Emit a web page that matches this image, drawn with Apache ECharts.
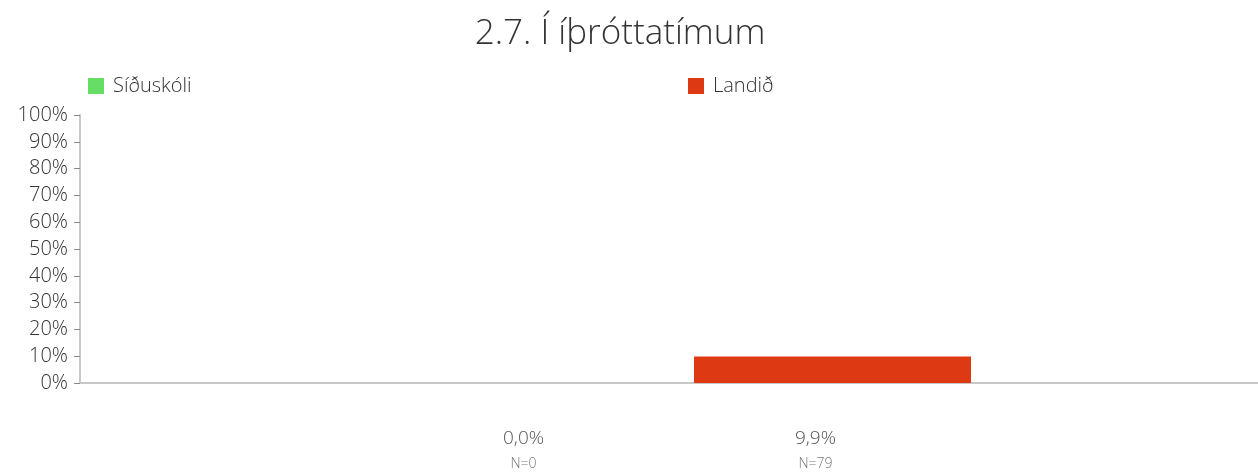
<!DOCTYPE html>
<html>
<head>
<meta charset="utf-8">
<style>
  html, body { margin: 0; padding: 0; background: #fff; }
  #chart { width: 1258px; height: 472px; }
</style>
<script src="https://cdn.jsdelivr.net/npm/echarts@6/dist/echarts.min.js"></script>
</head>
<body>
<div id="chart"></div>
<script>
// Survey question and its groups
const chartTitle = '2.7. Í íþróttatímum';
const seriesNames = ['Síðuskóli', 'Landið'];
const seriesValues = [0, 9.9];       // percent answering
const seriesCounts = [0, 79];        // number of respondents (N)
const seriesColors = ['#66dd66', '#dd3a13'];
const yTicks = { min: 0, max: 100, interval: 10 };

const FONT = '"Open Sans", Lato, "DejaVu Sans", sans-serif';

function fmtPct(v) {
  return v.toFixed(1).replace('.', ',') + '%';
}

const series = seriesNames.map((name, i) => ({
  name: name,
  type: 'bar',
  data: [seriesValues[i]],
  barWidth: 277,
  barGap: '5.4%',
  itemStyle: { color: seriesColors[i] },
  label: {
    show: true,
    position: 'bottom',
    distance: 0,
    offset: [-17, 42],
    formatter: () => '{p|' + fmtPct(seriesValues[i]) + '}\n{n|N=' + seriesCounts[i] + '}',
    rich: {
      p: { fontFamily: FONT, fontSize: 19, fontWeight: 300, color: '#555', lineHeight: 27, align: 'center' },
      n: { fontFamily: FONT, fontSize: 14, fontWeight: 300, color: '#777', lineHeight: 24, align: 'center' }
    }
  }
}));

const legendStyle = {
  top: 71,
  itemWidth: 16,
  itemHeight: 16,
  itemGap: 0,
  icon: 'rect',
  textStyle: { fontFamily: FONT, fontSize: 20, fontWeight: 300, color: '#333', padding: [0, 0, 0, 4] }
};

const option = {
  animation: false,
  backgroundColor: '#fff',
  title: {
    text: chartTitle,
    left: 615,
    textAlign: 'center',
    top: 12,
    textStyle: { fontFamily: FONT, fontSize: 35, fontWeight: 300, color: '#333' }
  },
  legend: [
    Object.assign({ left: 83, data: [seriesNames[0]] }, legendStyle),
    Object.assign({ left: 683, data: [seriesNames[1]] }, legendStyle)
  ],
  // plot area runs past the right edge so the category centre sits right of the middle
  grid: { left: 80, width: 1213, top: 115, height: 268, outerBoundsMode: 'none', containLabel: false },
  xAxis: {
    type: 'category',
    data: [''],
    axisLine: { show: true, lineStyle: { color: '#c8c8c8', width: 2 } },
    axisTick: { show: false },
    axisLabel: { show: false },
    splitLine: { show: false }
  },
  yAxis: {
    type: 'value',
    min: yTicks.min,
    max: yTicks.max,
    interval: yTicks.interval,
    axisLine: { show: true, lineStyle: { color: '#c8c8c8', width: 2 } },
    axisTick: { show: true, length: 6, lineStyle: { color: '#888', width: 1 } },
    axisLabel: {
      formatter: '{value}%',
      fontFamily: FONT,
      fontSize: 20,
      fontWeight: 300,
      color: '#333',
      margin: 12
    },
    splitLine: { show: false }
  },
  series: series
};

const chart = echarts.init(document.getElementById('chart'), null, { renderer: 'canvas' });
chart.setOption(option);
</script>
</body>
</html>
